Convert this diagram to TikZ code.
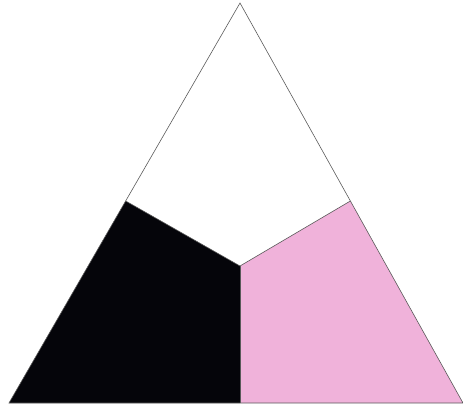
\documentclass[tikz,border=0pt]{standalone}
\usepackage{xcolor}
\usetikzlibrary{calc}
\definecolor{inkblack}{RGB}{5,5,10}
\definecolor{softpink}{RGB}{240,178,218}
\definecolor{edgegray}{RGB}{90,90,90}

\begin{document}
\begin{tikzpicture}[x=1pt,y=-1pt,
          region/.style={draw=edgegray,line width=0.6pt,line join=miter}]

        \useasboundingbox (0,0) rectangle (463,409);

        % corners and inner points
        \coordinate (apex) at (240,3);
        \coordinate (bl) at (9,403);
        \coordinate (br) at (463,403);
        \coordinate (ml) at ($(apex)!0.495!(bl)$);
        \coordinate (mr) at ($(apex)!0.495!(br)$);
        \coordinate (ctr) at (240,266);
        \coordinate (mb) at (240,403);

        \fill[inkblack] (ml) -- (ctr) -- (mb) -- (bl) -- cycle;
        \fill[softpink] (ctr) -- (mr) -- (br) -- (mb) -- cycle;

        \draw[region] (apex) -- (br) -- (bl) -- cycle;
        \draw[region] (ml) -- (ctr) -- (mr);
        \draw[region] (ctr) -- (mb);

      \end{tikzpicture}
\end{document}
